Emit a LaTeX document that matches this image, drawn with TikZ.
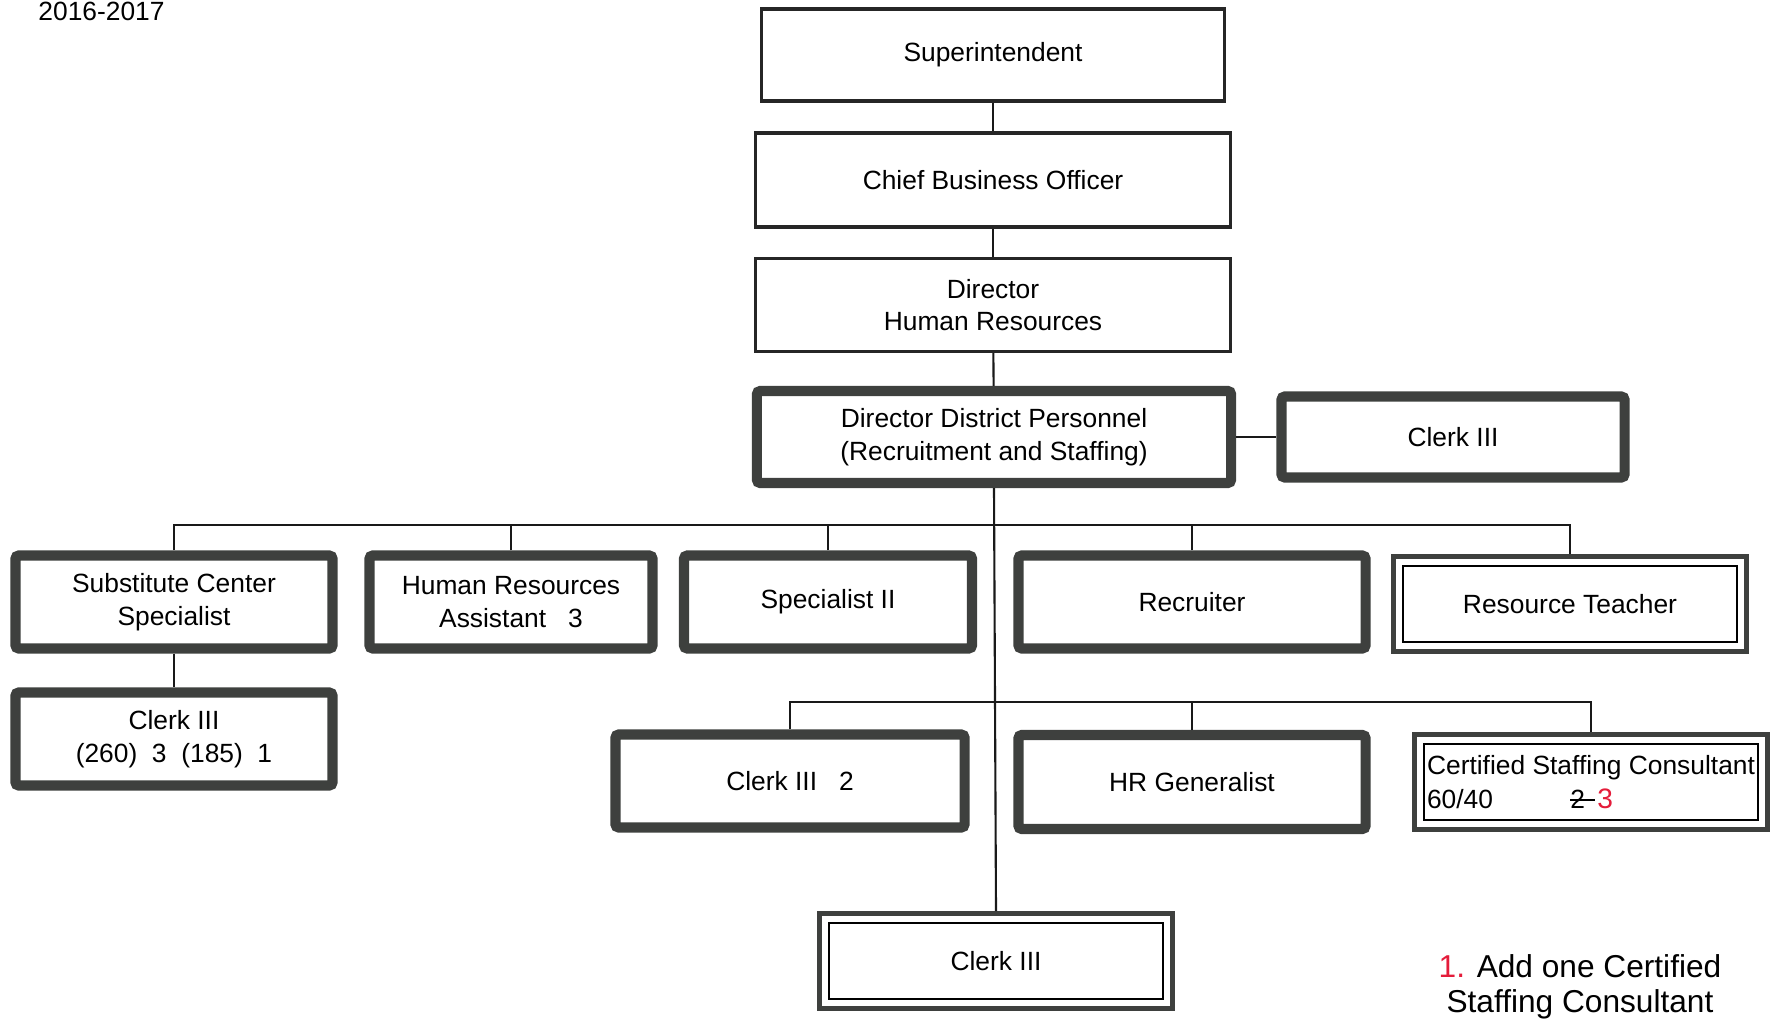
\documentclass[tikz,border=0pt]{standalone}
\usepackage{fontspec}
\setmainfont{Liberation Sans}
\usepackage{tikz}
\definecolor{boxgray}{RGB}{62,64,62}
\definecolor{markred}{RGB}{228,28,58}

\begin{document}
\begin{tikzpicture}[x=0.01cm,y=-0.01cm,
box/.style={rectangle,draw=black!85,line width=0.9pt,align=center,inner sep=0pt,font=\fontsize{7.5}{9.2}\selectfont},
heavy/.style={box,draw=boxgray,line width=2.9pt,rounded corners=1pt},
twoline/.style={box,draw=boxgray,line width=1.4pt,path picture={\draw[black,line width=0.6pt] ([shift={(2.7pt,-2.7pt)}]path picture bounding box.north west) rectangle ([shift={(-2.7pt,2.7pt)}]path picture bounding box.south east);}},
link/.style={draw=black!90,line width=0.6pt}]
\useasboundingbox (0,0) rectangle (1775,1021);
\path (993,55) node(sup)[box,minimum width=4.63cm,minimum height=0.92cm]{Superintendent}
(993,180) node(cbo)[box,minimum width=4.75cm,minimum height=0.94cm]{Chief Business Officer}
(993,305) node(dhr)[box,minimum width=4.75cm,minimum height=0.93cm]{Director\\Human Resources}
(994,437) node(ddp)[heavy,minimum width=4.74cm,minimum height=0.92cm]{Director District Personnel\\(Recruitment and Staffing)}
(1453,437) node(clk)[heavy,minimum width=3.43cm,minimum height=0.81cm]{Clerk III}
(174,602) node(subst)[heavy,minimum width=3.17cm,minimum height=0.93cm]{Substitute Center\\Specialist}
(511,602) node(hra)[heavy,minimum width=2.83cm,minimum height=0.93cm]{Human Resources\\Assistant\ \ \ 3}
(828,602) node(spec)[heavy,minimum width=2.88cm,minimum height=0.93cm]{Specialist II}
(1192,602) node(recr)[heavy,minimum width=3.47cm,minimum height=0.93cm]{Recruiter}
(1570,604) node(rtch)[twoline,minimum width=3.53cm,minimum height=0.95cm]{Resource Teacher}
(174,739) node(clkA)[heavy,minimum width=3.17cm,minimum height=0.93cm]{Clerk III\\(260)\ \ 3\ \ (185)\ \ 1}
(790,781) node(clkB)[heavy,minimum width=3.49cm,minimum height=0.93cm]{Clerk III\ \ \ 2}
(1192,782) node(hrg)[heavy,minimum width=3.47cm,minimum height=0.94cm]{HR Generalist}
(1591,782) node(csc)[twoline,minimum width=3.52cm,minimum height=0.95cm,align=left,font=\fontsize{7.5}{9.8}\selectfont]{Certified Staffing Consultant\\60/40\hspace{22pt}\rlap{\rule[2.2pt]{7pt}{0.45pt}}2\hspace{3.5pt}\textcolor{markred}{\fontsize{8}{9.8}\selectfont 3}}
(996,961) node(clkC)[twoline,minimum width=3.53cm,minimum height=0.95cm]{Clerk III};
\path (26,21) node(year)[anchor=base west,font=\fontsize{7.5}{9.2}\selectfont]{2016-2017}
(1580,987) node(note)[align=center,inner sep=0pt,font=\fontsize{9}{10}\selectfont]{\textcolor{markred}{1.} Add one Certified\\Staffing Consultant};
\coordinate (bus1) at (994,525);
\coordinate (bus2) at (994,702);
\draw[link](sup)--(cbo);
\draw[link](cbo)--(dhr);
\draw[link](dhr)--(ddp);
\draw[link](ddp)--(clk);
\draw[link](ddp.south)--(clkC.north);
\draw[link](subst.north)|-(bus1)-|(rtch.north);
\draw[link](hra.north)--(hra.north|-bus1);
\draw[link](spec.north)--(spec.north|-bus1);
\draw[link](recr.north)--(recr.north|-bus1);
\draw[link](subst)--(clkA);
\draw[link](clkB.north)|-(bus2)-|(csc.north);
\draw[link](hrg.north)--(hrg.north|-bus2);

\end{tikzpicture}
\end{document}
